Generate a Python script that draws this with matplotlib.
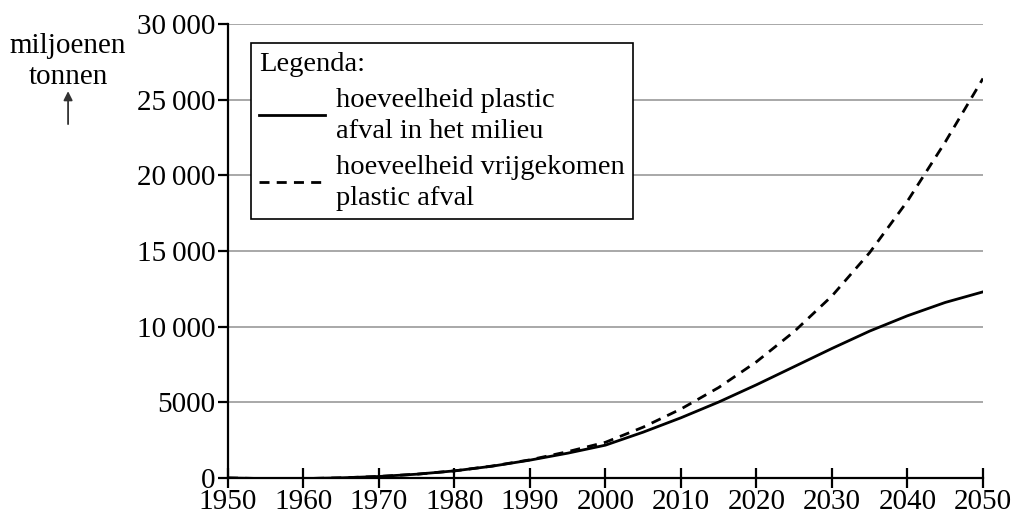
import numpy as np
import matplotlib.pyplot as plt
from matplotlib.lines import Line2D

plt.rcParams['font.family'] = ['Liberation Serif', 'DejaVu Serif']

years = [1950, 1955, 1960, 1965, 1970, 1975, 1980, 1985, 1990, 1995, 2000,
         2005, 2010, 2015, 2020, 2025, 2030, 2035, 2040, 2045, 2050]

# hoeveelheid plastic afval in het milieu (miljoenen tonnen)
in_milieu = [0, -40, -40, 10, 100, 250, 470, 780, 1180, 1640, 2170,
             3030, 3980, 5020, 6160, 7360, 8560, 9710, 10720, 11600, 12300]

# hoeveelheid vrijgekomen plastic afval
vrijgekomen = [0, -40, -40, 10, 100, 250, 470, 790, 1200, 1740, 2360,
               3360, 4560, 5980, 7680, 9680, 12030, 14900, 18300, 22200, 26400]

yticks = [0, 5000, 10000, 15000, 20000, 25000, 30000]
ytick_labels = ['0', '5000', '10\u2009000', '15\u2009000', '20\u2009000', '25\u2009000', '30\u2009000']
xticks = list(range(1950, 2051, 10))

fig = plt.figure(figsize=(10.16, 5.2), dpi=100)
ax = fig.add_axes([0.2244, 0.0808, 0.7431, 0.873])

ax.plot(years, in_milieu, color='black', lw=2.0, solid_joinstyle='round')
ax.plot(years, vrijgekomen, color='black', lw=2.0, ls=(0, (3.6, 2.6)))

ax.set_xlim(1950, 2050)
ax.set_ylim(0, 30000)
ax.set_yticks(yticks)
ax.set_yticklabels(ytick_labels)
ax.set_xticks(xticks)
ax.grid(axis='y', color='#9a9a9a', lw=1.2)
ax.set_axisbelow(True)

for s in ['top', 'right']:
    ax.spines[s].set_visible(False)
for s in ['left', 'bottom']:
    ax.spines[s].set_linewidth(1.6)
    ax.spines[s].set_zorder(5)

ax.tick_params(axis='x', direction='inout', length=14, width=1.6, labelsize=21, pad=1)
ax.tick_params(axis='y', direction='out', length=7, width=1.6, labelsize=21, pad=2)

handles = [Line2D([], [], color='black', lw=2.0),
           Line2D([], [], color='black', lw=2.0, ls=(0, (3.6, 2.6)))]
leg = ax.legend(handles, ['hoeveelheid plastic\nafval in het milieu',
                          'hoeveelheid vrijgekomen\nplastic afval'],
                title='Legenda:', loc='upper left', bbox_to_anchor=(0.03, 0.958),
                fontsize=20.5, title_fontsize=20.5, frameon=True, fancybox=False,
                edgecolor='black', framealpha=1, handlelength=2.3, handletextpad=0.4,
                borderpad=0.3, labelspacing=0.4, borderaxespad=0)
leg._legend_box.align = 'left'
leg.get_frame().set_linewidth(1.2)
for t in leg.get_texts():
    t.set_linespacing(1.3)

fig.text(0.067, 0.882, 'miljoenen\ntonnen', ha='center', va='center',
         fontsize=21, linespacing=1.25)
ax.annotate('', xy=(0.067, 0.83), xytext=(0.067, 0.756), xycoords='figure fraction',
            arrowprops=dict(arrowstyle='-|>', color='#333333', lw=1.3, mutation_scale=13))

fig.savefig('out.png', dpi=100)
